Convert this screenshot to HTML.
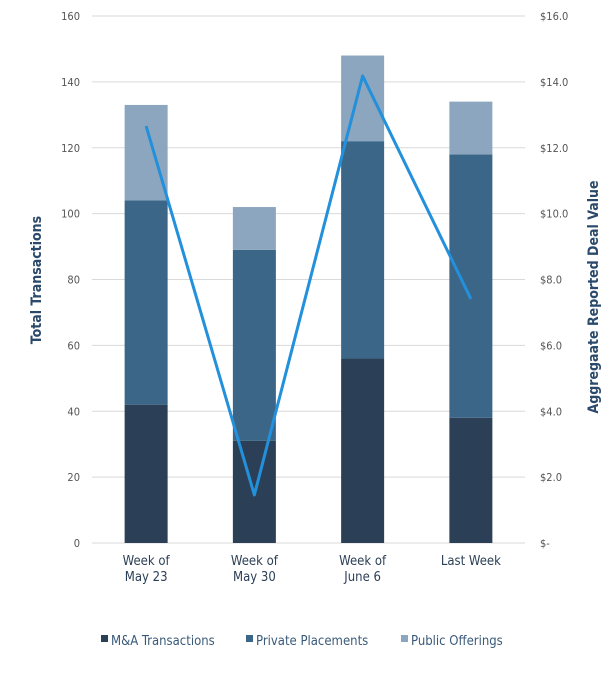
<!DOCTYPE html>
<html><head><meta charset="utf-8"><style>
body{margin:0;background:#fff;}
svg{display:block;font-family:"DejaVu Sans Condensed","Liberation Sans",sans-serif;}
</style></head><body>
<svg id="chart" width="612" height="686">
<g id="grid"></g><g id="bars"></g><g id="line"></g><g id="labels"></g>
<text transform="translate(41,280) rotate(-90)" text-anchor="middle" font-size="14" font-weight="bold" fill="#2b4a6b">Total Transactions</text>
<text transform="translate(598,297) rotate(-90)" text-anchor="middle" font-size="14" font-weight="bold" fill="#2b4a6b">Aggregaate Reported Deal Value</text>
<g font-size="13" fill="#3a5a7a">
<rect x="101" y="635" width="7" height="7" fill="#2b4056"/>
<text x="111" y="645">M&amp;A Transactions</text>
<rect x="246" y="635" width="7" height="7" fill="#3b6688"/>
<text x="256" y="645">Private Placements</text>
<rect x="401" y="635" width="7" height="7" fill="#8ba6be"/>
<text x="411" y="645">Public Offerings</text>
</g>
</svg>
<script>
const categories=[["Week of","May 23"],["Week of","May 30"],["Week of","June 6"],["Last Week"]];
const maValues=[42,31,56,38];
const privateValues=[62,58,66,80];
const publicValues=[29,13,26,16];
const dealValues=[12.66,1.46,14.18,7.41];
const leftTicks=[0,20,40,60,80,100,120,140,160];
const rightTicks=["$-","$2.0","$4.0","$6.0","$8.0","$10.0","$12.0","$14.0","$16.0"];
const NS="http://www.w3.org/2000/svg";
const x0=92,x1=525,yb=543,yt=16;
const yL=v=>yb-(v/160)*(yb-yt);
const yR=v=>yb-(v/16)*(yb-yt);
const band=(x1-x0)/categories.length;
const xc=i=>x0+band*(i+0.5);
function mk(t,a,p){const e=document.createElementNS(NS,t);for(const k in a)e.setAttribute(k,a[k]);p.appendChild(e);return e;}
const grid=document.getElementById('grid'),bars=document.getElementById('bars'),line=document.getElementById('line'),labels=document.getElementById('labels');
leftTicks.forEach((v,i)=>{
  const l=mk('line',{x1:x0,x2:x1,y1:yL(v),y2:yL(v),stroke:'#d9d9d9','stroke-width':1},grid);
  
  
  const t=mk('text',{x:80,y:yL(v)+4,'text-anchor':'end','font-size':11,fill:'#555'},labels);
  t.textContent=v;
  
  
  const r=mk('text',{x:540,y:yL(v)+4,'font-size':11,fill:'#555'},labels);
  r.textContent=rightTicks[i];
  
  
});
const bw=43;
categories.forEach((c,i)=>{
  const segs=[[maValues[i],'#2b4056','bar-ma'],[privateValues[i],'#3b6688','bar-private'],[publicValues[i],'#8ba6be','bar-public']];
  let base=0;
  segs.forEach(s=>{
    const r=mk('rect',{x:xc(i)-bw/2,y:yL(base+s[0]),width:bw,height:yL(base)-yL(base+s[0]),fill:s[1]},bars);
    
    
    base+=s[0];
  });
  c.forEach((ln,j)=>{
    const t=mk('text',{x:xc(i),y:565+j*16,'text-anchor':'middle','font-size':13,fill:'#2b3f56'},labels);
    t.textContent=ln;
    
    
  });
});
const pts=dealValues.map((v,i)=>xc(i)+','+yR(v)).join(' ');
const pl=mk('polyline',{points:pts,fill:'none',stroke:'#2390dc','stroke-width':3,'stroke-linejoin':'round'},line);


</script>
</body></html>
